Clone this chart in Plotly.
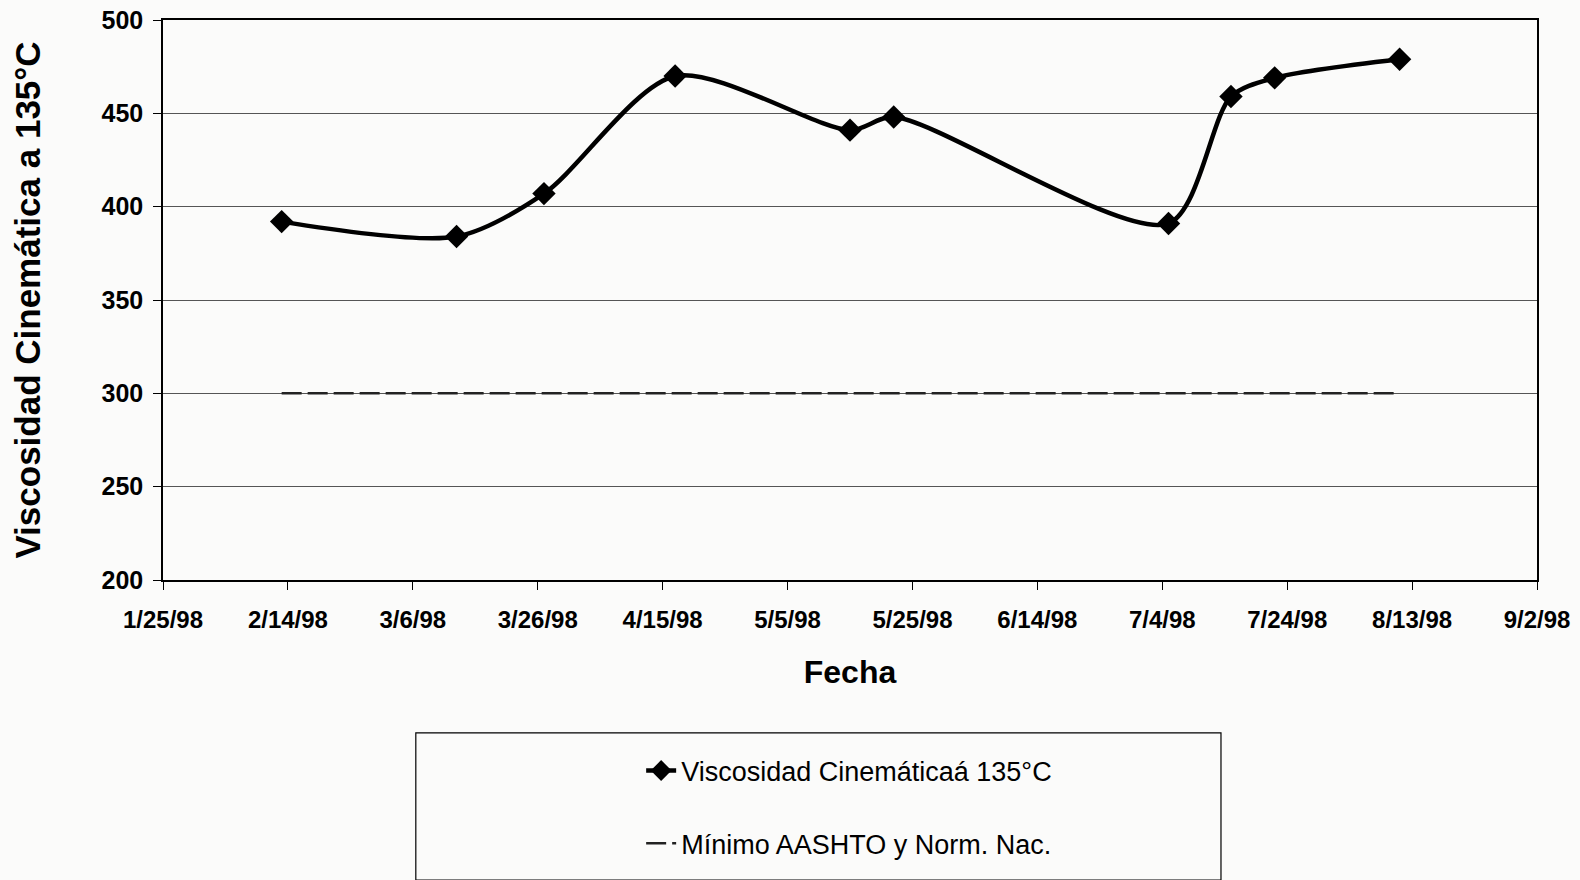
import plotly.graph_objects as go

# sample dates and kinematic viscosity at 135 C
fechas = [
    "1998-02-13", "1998-03-13", "1998-03-27", "1998-04-17", "1998-05-15",
    "1998-05-22", "1998-07-05", "1998-07-15", "1998-07-22", "1998-08-11",
]
viscosidad = [392, 384, 407, 470, 441, 448, 391, 459, 469, 479]

# minimum spec line (AASHTO / national norm)
fechas_minimo = ["1998-02-13", "1998-08-11"]
minimo = [300, 300]

nombre_serie = "Viscosidad Cinemáticaá 135°C"
nombre_minimo = "Mínimo AASHTO y Norm. Nac."

fig = go.Figure()

fig.add_trace(
    go.Scatter(
        x=fechas,
        y=viscosidad,
        mode="lines+markers",
        line=dict(color="black", width=4.5, shape="spline", smoothing=0.8),
        marker=dict(symbol="diamond", size=18, color="black"),
        name=nombre_serie,
        legend="legend",
    )
)

fig.add_trace(
    go.Scatter(
        x=fechas_minimo,
        y=minimo,
        mode="lines",
        line=dict(color="#222222", width=2.5, dash="20px,6px"),
        name=nombre_minimo,
        legend="legend2",
    )
)

# legend frame
fig.add_shape(
    type="rect",
    xref="paper",
    yref="paper",
    x0=0.184,
    x1=0.770,
    y0=-0.536,
    y1=-0.273,
    line=dict(color="black", width=1.2),
    fillcolor="rgba(0,0,0,0)",
)

legend_font = dict(family="Liberation Sans, Arial", size=27, color="black")
axis_font = "Liberation Sans, Arial"

fig.update_layout(
    width=1580,
    height=880,
    paper_bgcolor="#fbfbfa",
    plot_bgcolor="#fbfbfa",
    margin=dict(l=163, r=43, t=20, b=300, autoexpand=False),
    showlegend=True,
    legend=dict(
        x=0.348, y=-0.341, xanchor="left", yanchor="middle",
        font=legend_font, bgcolor="rgba(0,0,0,0)",
    ),
    legend2=dict(
        x=0.348, y=-0.471, xanchor="left", yanchor="middle",
        font=legend_font, bgcolor="rgba(0,0,0,0)",
    ),
    xaxis=dict(
        range=["1998-01-25", "1998-09-02"],
        tick0="1998-01-25",
        dtick=20 * 86400000,
        tickformat="%-m/%-d/%y",
        ticks="outside",
        ticklen=8,
        tickcolor="black",
        ticklabelstandoff=9,
        showline=True,
        linecolor="black",
        linewidth=1.5,
        mirror=True,
        showgrid=False,
        zeroline=False,
        automargin=False,
        tickfont=dict(family=axis_font, size=24, color="black"),
        tickprefix="<b>",
        ticksuffix="</b>",
        title=dict(
            text="<b>Fecha</b>",
            font=dict(family=axis_font, size=32, color="black"),
            standoff=29,
        ),
    ),
    yaxis=dict(
        range=[200, 500],
        dtick=50,
        ticks="outside",
        ticklen=8,
        tickcolor="black",
        ticklabelstandoff=5,
        showline=True,
        linecolor="black",
        linewidth=1.5,
        mirror=True,
        showgrid=True,
        gridcolor="#555555",
        gridwidth=1,
        zeroline=False,
        automargin=False,
        tickfont=dict(family=axis_font, size=25, color="black"),
        tickprefix="<b>",
        ticksuffix="</b>",
        title=dict(
            text="<b>Viscosidad Cinemática a 135°C</b>",
            font=dict(family=axis_font, size=35, color="black"),
            standoff=50,
        ),
    ),
)

fig.write_html(
    "out.html",
    config={"displayModeBar": False},
    post_script="document.body.style.margin='0';",
)
